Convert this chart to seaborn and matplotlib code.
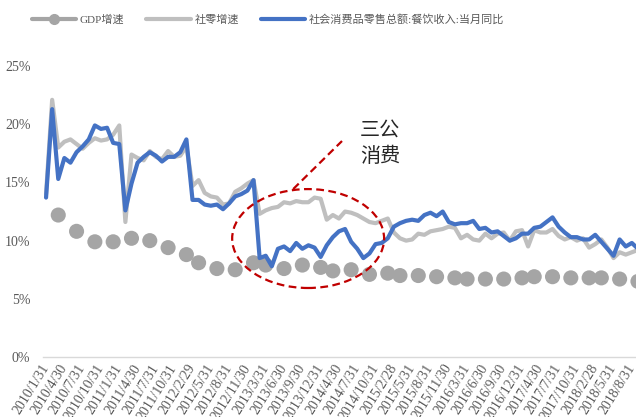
import numpy as np
import pandas as pd
import matplotlib
matplotlib.use("Agg")
import matplotlib.pyplot as plt
import seaborn as sns
from matplotlib.patches import Ellipse
from matplotlib.lines import Line2D
from matplotlib.ticker import FixedLocator, FuncFormatter

# Monthly categories; from 2012 on January is merged into the Jan-Feb figure
month_starts = pd.date_range("2010-01-01", "2018-09-01", freq="MS")
months = [d + pd.offsets.MonthEnd(0) for d in month_starts
          if not (d.month == 1 and d.year >= 2012)]
month_labels = [f"{d.year}/{d.month}/{d.day}" for d in months]

# 社零增速 (retail sales, y/y %)
retail = [
    14.0, 22.1, 18.0, 18.5, 18.7, 18.3, 17.9, 18.4, 18.8, 18.6, 18.7, 19.1,   # 2010
    19.9, 11.6, 17.4, 17.1, 16.9, 17.7, 17.2, 17.0, 17.7, 17.2, 17.3, 18.1,   # 2011
    14.7, 15.2, 14.1, 13.8, 13.7, 13.1, 13.2, 14.2, 14.5, 14.9, 15.2,         # 2012
    12.3, 12.6, 12.8, 12.9, 13.3, 13.2, 13.4, 13.3, 13.3, 13.7, 13.6,         # 2013
    11.8, 12.2, 11.9, 12.5, 12.4, 12.2, 11.9, 11.6, 11.5, 11.7, 11.9,         # 2014
    10.7, 10.2, 10.0, 10.1, 10.6, 10.5, 10.8, 10.9, 11.0, 11.2, 11.1,         # 2015
    10.2, 10.5, 10.1, 10.0, 10.6, 10.2, 10.6, 10.7, 10.0, 10.8, 10.9,         # 2016
    9.5, 10.9, 10.7, 10.7, 11.0, 10.4, 10.1, 10.3, 10.0, 10.2, 9.4,           # 2017
    9.7, 10.1, 9.4, 8.5, 9.0, 8.8, 9.0, 9.2,                                  # 2018
]

# 社会消费品零售总额:餐饮收入:当月同比 (catering revenue, y/y %)
catering = [
    13.7, 21.3, 15.3, 17.1, 16.7, 17.6, 18.1, 18.7, 19.9, 19.6, 19.7, 18.4,   # 2010
    18.3, 12.6, 14.9, 16.7, 17.2, 17.6, 17.3, 16.8, 17.2, 17.2, 17.6, 18.7,   # 2011
    13.5, 13.5, 13.1, 13.0, 13.1, 12.7, 13.2, 13.8, 14.0, 14.3, 15.2,         # 2012
    8.5, 8.7, 7.8, 9.3, 9.5, 9.1, 9.8, 9.3, 9.6, 9.4, 8.6,                    # 2013
    9.6, 10.3, 10.8, 11.0, 9.9, 9.3, 8.5, 8.9, 9.7, 9.8, 10.2,                # 2014
    11.2, 11.5, 11.7, 11.8, 11.7, 12.2, 12.4, 12.1, 12.5, 11.6, 11.4,         # 2015
    11.5, 11.5, 11.7, 11.0, 11.1, 10.7, 10.8, 10.4, 10.0, 10.2, 10.6,         # 2016
    10.6, 11.1, 11.2, 11.6, 12.0, 11.2, 10.7, 10.3, 10.3, 10.1, 10.1,         # 2017
    10.5, 9.9, 9.3, 8.7, 10.1, 9.5, 9.8, 9.3,                                 # 2018
]

# GDP增速 (quarterly, y/y %), reported at quarter-end months
gdp = [
    12.2, 10.8, 9.9, 9.9,
    10.2, 10.0, 9.4, 8.8,
    8.1, 7.6, 7.5, 8.1,
    7.9, 7.6, 7.9, 7.7,
    7.4, 7.5, 7.1, 7.2,
    7.0, 7.0, 6.9, 6.8,
    6.7, 6.7, 6.7, 6.8,
    6.9, 6.9, 6.8, 6.8,
    6.8, 6.7, 6.5,
]

names = ["GDP增速", "社零增速", "社会消费品零售总额:餐饮收入:当月同比"]

df = pd.DataFrame({"date": months, "label": month_labels,
                   "retail": retail, "catering": catering})
df["pos"] = np.arange(len(df))
quarter_rows = df[df["date"].dt.month % 3 == 0].copy()
quarter_rows["gdp"] = gdp

sns.set_theme(style="white")
plt.rcParams["font.family"] = ["Liberation Serif", "Noto Sans CJK SC", "DejaVu Sans"]

GREY_DOT = "#a5a5a5"
GREY_LINE = "#bfbfbf"
BLUE = "#4472c4"
RED = "#c00000"
TEXT = "#595959"

W, H = 636, 417
fig = plt.figure(figsize=(W / 100, H / 100), dpi=100)
ax = fig.add_axes([43 / W, 60 / H, (641 - 43) / W, 320 / H])

sns.scatterplot(data=quarter_rows, x="pos", y="gdp", ax=ax, s=118,
                color=GREY_DOT, edgecolor="none", zorder=2, legend=False)
sns.lineplot(data=df, x="pos", y="retail", ax=ax, color=GREY_LINE,
             linewidth=3.0, zorder=3, legend=False)
sns.lineplot(data=df, x="pos", y="catering", ax=ax, color=BLUE,
             linewidth=3.0, zorder=4, legend=False)

ax.set_xlim(-0.5, len(df) - 0.5)
ax.set_ylim(0, 27.5)
ax.set_xlabel("")
ax.set_ylabel("")

ax.set_yticks(np.arange(0, 26, 5))
ax.yaxis.set_major_formatter(FuncFormatter(lambda v, _: f"{v:.0f}%"))
ax.tick_params(axis="y", length=0, pad=9, labelsize=10, labelcolor=TEXT)

tick_pos = df["pos"].iloc[::3].tolist()
ax.set_xticks(tick_pos)
ax.set_xticklabels(df["label"].iloc[::3].tolist(), rotation=58,
                   ha="right", va="center", rotation_mode="anchor")
ax.tick_params(axis="x", which="major", length=0, pad=6,
               labelsize=10, labelcolor=TEXT)
ax.xaxis.set_minor_locator(FixedLocator(np.arange(-0.5, len(df), 1.0)))
ax.tick_params(axis="x", which="minor", length=2.5, width=0.7,
               color="#d0d0d0", direction="out")

for side in ("top", "right", "left"):
    ax.spines[side].set_visible(False)
ax.spines["bottom"].set_color("#d9d9d9")
ax.spines["bottom"].set_linewidth(1.0)

# Highlight of the 2013-2014 slump
ax.add_patch(Ellipse((42.95, 10.18), width=24.9, height=8.5, fill=False,
                     edgecolor=RED, linewidth=1.6, linestyle=(0, (3.5, 2)),
                     zorder=5))
ax.plot([40.5, 48.5], [14.43, 18.56], color=RED, linewidth=1.6,
        linestyle=(0, (3.5, 2)), zorder=5)
ax.text(54.75, 18.35, "三公\n消费", ha="center", va="center", fontsize=14.5,
        color="#262626", linespacing=1.35,
        family=["Noto Sans CJK SC", "DejaVu Sans"])

handles = [
    Line2D([], [], color=GREY_DOT, linewidth=3, marker="o", markersize=7),
    Line2D([], [], color=GREY_LINE, linewidth=3),
    Line2D([], [], color=BLUE, linewidth=3),
]
leg = fig.legend(handles, names, loc="center", ncol=3,
                 bbox_to_anchor=(268 / W, 1 - 19 / H), frameon=False,
                 fontsize=8, handlelength=4.0, handletextpad=0.3,
                 columnspacing=2.0, borderaxespad=0)
for t in leg.get_texts():
    t.set_color(TEXT)

fig.savefig("out.png", dpi=100)
